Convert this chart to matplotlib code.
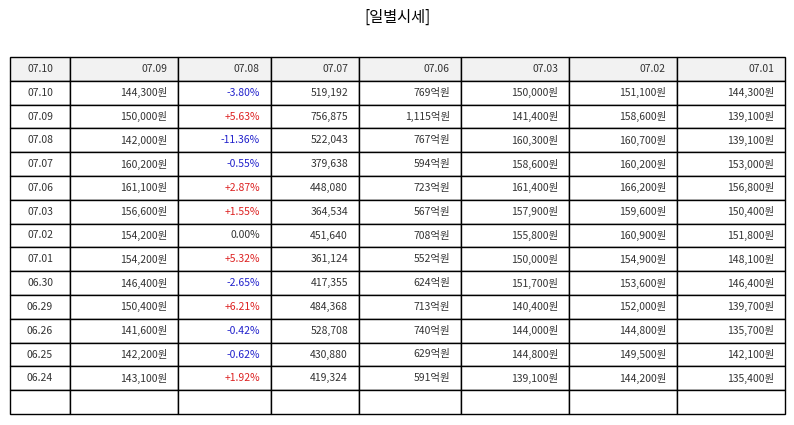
import matplotlib
matplotlib.use('Agg')
import matplotlib.pyplot as plt

plt.rcParams['font.family'] = ['Noto Sans CJK KR', 'DejaVu Sans']

# ============================================================
# Data
# ============================================================
header = ['07.10', '07.09', '07.08', '07.07', '07.06', '07.03', '07.02', '07.01']
dates = ['07.10', '07.09', '07.08', '07.07', '07.06', '07.03', '07.02', '07.01',
         '06.30', '06.29', '06.26', '06.25', '06.24']
close = ['144,300원', '150,000원', '142,000원', '160,200원', '161,100원', '156,600원',
         '154,200원', '154,200원', '146,400원', '150,400원', '141,600원', '142,200원',
         '143,100원']
change = ['-3.80%', '+5.63%', '-11.36%', '-0.55%', '+2.87%', '+1.55%', '0.00%',
          '+5.32%', '-2.65%', '+6.21%', '-0.42%', '-0.62%', '+1.92%']
volume = ['519,192', '756,875', '522,043', '379,638', '448,080', '364,534', '451,640',
          '361,124', '417,355', '484,368', '528,708', '430,880', '419,324']
amount = ['769억원', '1,115억원', '767억원', '594억원', '723억원', '567억원', '708억원',
          '552억원', '624억원', '713억원', '740억원', '629억원', '591억원']
open_ = ['150,000원', '141,400원', '160,300원', '158,600원', '161,400원', '157,900원',
         '155,800원', '150,000원', '151,700원', '140,400원', '144,000원', '144,800원',
         '139,100원']
high = ['151,100원', '158,600원', '160,700원', '160,200원', '166,200원', '159,600원',
        '160,900원', '154,900원', '153,600원', '152,000원', '144,800원', '149,500원',
        '144,200원']
low = ['144,300원', '139,100원', '139,100원', '153,000원', '156,800원', '150,400원',
       '151,800원', '148,100원', '146,400원', '139,700원', '135,700원', '142,100원',
       '135,400원']

rows = [list(r) for r in zip(dates, close, change, volume, amount, open_, high, low)]
rows.append([''] * 8)

# column boundaries in pixels
edges = [10, 70, 178, 271, 359, 461, 569, 677, 785]
widths = [b - a for a, b in zip(edges[:-1], edges[1:])]
total = sum(widths)

# ============================================================
# Plot
# ============================================================
fig = plt.figure(figsize=(7.94, 4.25), dpi=100)
ax = fig.add_axes([10 / 794, 1 - 414 / 425, total / 794, (414 - 57) / 425])
ax.axis('off')

tbl = ax.table(cellText=rows, colLabels=header,
               colWidths=[w / total for w in widths], bbox=[0, 0, 1, 1])
tbl.auto_set_font_size(False)

for (r, c), cell in tbl.get_celld().items():
    cell.set_linewidth(1.0)
    cell.set_edgecolor('black')
    txt = cell.get_text()
    txt.set_fontsize(7.5)
    txt.set_color('#333333')
    if c == 0:
        cell._loc = 'center'
        txt.set_horizontalalignment('center')
    else:
        cell._loc = 'right'
        txt.set_horizontalalignment('right')
        cell.PAD = 11 / widths[c]
    if r == 0:
        cell.set_facecolor('#f2f2f2')
    elif c == 2:
        s = txt.get_text()
        if s.startswith('+'):
            txt.set_color('#dd2222')
        elif s.startswith('-'):
            txt.set_color('#2222cc')

fig.text(0.5, 1 - 17 / 425, '[일별시세]', ha='center', va='center', fontsize=11)

fig.savefig('out.png', dpi=100)
